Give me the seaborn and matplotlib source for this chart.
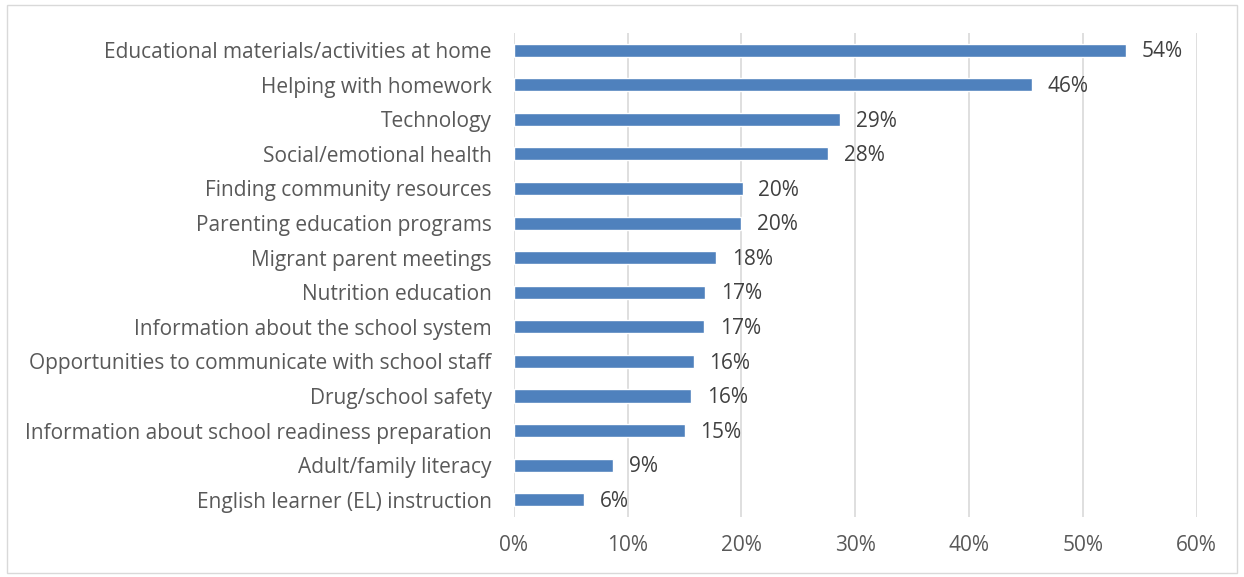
import matplotlib
matplotlib.use('Agg')
import matplotlib.pyplot as plt
import seaborn as sns
import pandas as pd
from matplotlib.patches import Rectangle

# 数据
categories = [
    'Educational materials/activities at home',
    'Helping with homework',
    'Technology',
    'Social/emotional health',
    'Finding community resources',
    'Parenting education programs',
    'Migrant parent meetings',
    'Nutrition education',
    'Information about the school system',
    'Opportunities to communicate with school staff',
    'Drug/school safety',
    'Information about school readiness preparation',
    'Adult/family literacy',
    'English learner (EL) instruction',
]
values = [53.8, 45.5, 28.7, 27.6, 20.1, 20.0, 17.8, 16.8, 16.7, 15.8, 15.6, 15.0, 8.7, 6.2]
labels = ['54%', '46%', '29%', '28%', '20%', '20%', '18%', '17%', '17%', '16%', '16%', '15%', '9%', '6%']
xticks = [0, 10, 20, 30, 40, 50, 60]

df = pd.DataFrame({'cat': categories, 'val': values})

sns.set_style('white')
plt.rcParams['font.family'] = ['Open Sans', 'DejaVu Sans']

fig = plt.figure(figsize=(12.44, 5.77), dpi=100)
ax = fig.add_axes([0.413, 0.104, 0.549, 0.839])

sns.barplot(data=df, x='val', y='cat', color='#4F81BD', saturation=1, width=0.38, ax=ax)

# 数据标签
for i, (v, lab) in enumerate(zip(values, labels)):
    ax.text(v + 1.4, i + 0.05, lab, va='center', ha='left', fontsize=15, color='#404040')

ax.set_xlim(0, 60)
ax.set_xticks(xticks)
ax.set_xticklabels([f'{t}%' for t in xticks], fontsize=15, color='#595959')
ax.tick_params(axis='y', labelsize=15, labelcolor='#595959', length=0, pad=16)
ax.tick_params(axis='x', length=0, pad=13)
ax.set_xlabel('')
ax.set_ylabel('')
ax.xaxis.grid(True, color='#D9D9D9', linewidth=1.2)
ax.set_axisbelow(True)
for s in ax.spines.values():
    s.set_visible(False)

# 外框
fig.patches.append(Rectangle((7 / 1244, 4 / 577), 1230 / 1244, 568 / 577,
                             transform=fig.transFigure, fill=False,
                             edgecolor='#D9D9D9', linewidth=1))

plt.savefig('out.png', dpi=100)
